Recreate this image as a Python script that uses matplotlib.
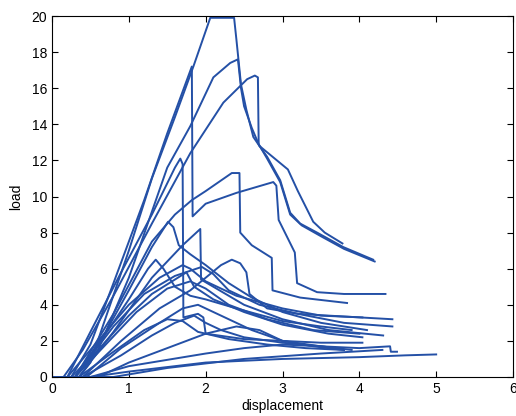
import matplotlib
matplotlib.use("Agg")
import matplotlib.pyplot as plt

plt.rcParams['font.family'] = ['Liberation Sans', 'DejaVu Sans']

# ---- data (displacement, load) ----
c1_x = [0, 0.35, 0.5, 0.7, 1.0, 1.3, 1.6, 1.84, 2.06, 2.37, 2.40, 2.46, 2.53, 2.62, 2.70, 3.07, 3.2, 3.4, 3.55, 3.78]
c1_y = [0, 0, 0.8, 3.3, 7.0, 11.0, 14.4, 17.2, 19.9, 19.9, 18.7, 16.2, 14.8, 13.3, 12.8, 11.5, 10.3, 8.6, 8.0, 7.4]

c2_x = [0, 0.3, 0.6, 1.0, 1.5, 1.8, 2.1, 2.32, 2.42, 2.46, 2.5, 2.6, 2.7, 2.8, 2.97, 3.1, 3.23, 3.45, 3.79, 4.18]
c2_y = [0, 0, 1.5, 5.5, 11.6, 13.9, 16.6, 17.4, 17.6, 16.0, 15.0, 13.8, 12.8, 12.2, 10.9, 9.1, 8.5, 8.0, 7.2, 6.5]

c3_x = [0, 0.15, 0.4, 0.8, 1.3, 1.8, 2.23, 2.54, 2.64, 2.68, 2.69, 2.8, 2.97, 3.1, 3.25, 3.5, 3.8, 4.2]
c3_y = [0, 0, 1.5, 4.5, 8.5, 12.4, 15.2, 16.5, 16.7, 16.6, 12.9, 12.1, 10.8, 9.0, 8.4, 7.8, 7.1, 6.4]

c4_x = [0, 0.25, 0.5, 0.8, 1.2, 1.5, 1.82, 1.83, 2.0, 2.4, 2.88, 2.92, 2.95, 3.16, 3.19, 3.45, 3.8, 4.34]
c4_y = [0, 0, 1.8, 5.2, 9.8, 13.5, 17.2, 8.9, 9.6, 10.2, 10.8, 10.6, 8.7, 6.9, 5.2, 4.7, 4.6, 4.6]

c5_x = [0, 0.2, 0.5, 0.9, 1.3, 1.6, 1.67, 1.70, 1.71, 1.9, 1.97, 2.0, 2.5, 3.0, 3.5, 4.04]
c5_y = [0, 0, 2.5, 5.8, 9.0, 11.6, 12.1, 11.8, 3.3, 3.5, 3.3, 2.4, 2.1, 2.0, 1.9, 1.9]

c6_x = [0, 0.3, 0.8, 1.3, 1.6, 1.82, 2.0, 2.34, 2.44, 2.45, 2.6, 2.86, 2.87, 3.23, 3.84]
c6_y = [0, 0, 3.5, 7.5, 9.0, 9.8, 10.3, 11.3, 11.3, 8.0, 7.3, 6.6, 4.8, 4.4, 4.1]

c8_x = [0, 0.3, 0.7, 1.0, 1.3, 1.51, 1.58, 1.65, 1.8, 2.0, 2.3, 2.6, 3.0, 3.5, 4.1]
c8_y = [0, 0, 2.5, 4.8, 7.2, 8.6, 8.3, 7.3, 6.8, 6.2, 5.2, 4.4, 3.6, 3.0, 2.6]

c9_x = [0, 0.35, 0.8, 1.3, 1.7, 1.93, 1.94, 2.1, 2.5, 3.0, 3.6, 4.31]
c9_y = [0, 0, 2.5, 5.5, 7.3, 8.2, 5.4, 5.0, 4.0, 3.2, 2.6, 2.3]

c10_x = [0, 0.4, 0.9, 1.4, 1.8, 2.0, 2.2, 2.34, 2.45, 2.53, 2.57, 2.8, 3.2, 3.6, 4.43]
c10_y = [0, 0, 2.0, 3.8, 4.8, 5.5, 6.2, 6.5, 6.3, 5.8, 4.6, 3.8, 3.5, 3.4, 3.2]

c11_x = [0, 0.2, 0.6, 1.0, 1.4, 1.7, 1.8, 2.0, 2.4, 3.0, 3.5, 4.04]
c11_y = [0, 0, 2.0, 4.0, 5.5, 6.2, 6.0, 5.3, 4.5, 3.8, 3.4, 3.3]

c12_x = [0, 0.3, 0.8, 1.2, 1.6, 1.95, 2.1, 2.3, 2.7, 3.2, 3.8, 4.43]
c12_y = [0, 0, 2.8, 4.6, 5.6, 6.1, 5.7, 4.8, 4.0, 3.5, 3.0, 2.8]

c13_x = [0, 0.3, 0.7, 1.0, 1.25, 1.35, 1.45, 1.6, 1.8, 2.0, 2.4, 3.0, 3.5, 3.9]
c13_y = [0, 0, 2.4, 4.3, 6.0, 6.5, 6.0, 5.0, 4.5, 4.3, 3.8, 3.1, 2.8, 2.6]

c14_x = [0, 0.25, 0.6, 1.0, 1.3, 1.6, 1.75, 1.85, 2.1, 2.5, 3.0, 3.6, 4.04]
c14_y = [0, 0, 1.5, 3.4, 4.6, 5.4, 5.8, 5.0, 4.3, 3.6, 2.9, 2.4, 2.2]

c15_x = [0, 0.4, 0.9, 1.3, 1.6, 1.85, 2.0, 2.2, 2.5, 3.0, 3.5, 4.0, 4.4, 4.41, 4.49]
c15_y = [0, 0, 1.2, 2.3, 3.0, 3.4, 3.0, 2.6, 2.2, 1.9, 1.7, 1.6, 1.7, 1.4, 1.4]

c16_x = [0, 0.5, 1.0, 2.0, 3.0, 4.0, 4.6, 5.0]
c16_y = [0, 0, 0.3, 0.8, 1.0, 1.1, 1.2, 1.25]

c17_x = [0, 0.6, 1.0, 1.5, 2.0, 2.4, 2.7, 3.0, 3.4, 3.8]
c17_y = [0, 0, 0.8, 1.6, 2.4, 2.8, 2.6, 2.0, 1.7, 1.5]

c18_x = [0, 0.5, 1.0, 2.0, 2.5, 3.0, 3.5, 3.9]
c18_y = [0, 0, 0.6, 1.3, 1.6, 1.8, 1.7, 1.5]

c19_x = [0, 0.8, 1.5, 2.5, 3.5, 4.3]
c19_y = [0, 0, 0.5, 1.0, 1.3, 1.5]

c20_x = [0, 0.45, 0.9, 1.4, 1.7, 1.9, 2.2, 2.6, 3.0, 3.5, 3.7]
c20_y = [0, 0, 1.6, 3.0, 3.8, 4.0, 3.4, 2.6, 2.0, 1.7, 1.6]

c21_x = [0, 0.35, 0.8, 1.2, 1.5, 1.7, 1.9, 2.3, 2.8, 3.3, 3.8]
c21_y = [0, 0, 1.4, 2.6, 3.2, 3.1, 2.5, 2.1, 1.8, 1.6, 1.5]

c22_x = [0, 0.3, 0.7, 1.1, 1.5, 1.8, 2.0, 2.3, 2.8, 3.4, 4.0]
c22_y = [0, 0, 1.8, 3.6, 4.9, 5.3, 4.9, 4.0, 3.2, 2.6, 2.4]

curves_x = [c1_x, c2_x, c3_x, c4_x, c5_x, c6_x, c8_x, c9_x, c10_x, c11_x,
            c12_x, c13_x, c14_x, c15_x, c16_x, c17_x, c18_x, c19_x, c20_x, c21_x, c22_x]
curves_y = [c1_y, c2_y, c3_y, c4_y, c5_y, c6_y, c8_y, c9_y, c10_y, c11_y,
            c12_y, c13_y, c14_y, c15_y, c16_y, c17_y, c18_y, c19_y, c20_y, c21_y, c22_y]

x_ticks = [0, 1, 2, 3, 4, 5, 6]
y_ticks = [0, 2, 4, 6, 8, 10, 12, 14, 16, 18, 20]

fig = plt.figure(figsize=(5.16, 4.16), dpi=100)
ax = fig.add_axes([52 / 516, 1 - 377 / 416, (513 - 52) / 516, (377 - 16) / 416])

for xs, ys in zip(curves_x, curves_y):
    ax.plot(xs, ys, color='#2450a6', linewidth=1.4)

ax.set_xlim(0, 6)
ax.set_ylim(0, 20)
ax.set_xticks(x_ticks)
ax.set_yticks(y_ticks)
ax.tick_params(direction='in', length=4, top=True, right=True, labelsize=10, width=0.8)
for s in ax.spines.values():
    s.set_linewidth(0.8)
ax.set_xlabel('displacement', fontsize=10, labelpad=2)
ax.set_ylabel('load', fontsize=10, labelpad=6)

fig.savefig('out.png', dpi=100)
